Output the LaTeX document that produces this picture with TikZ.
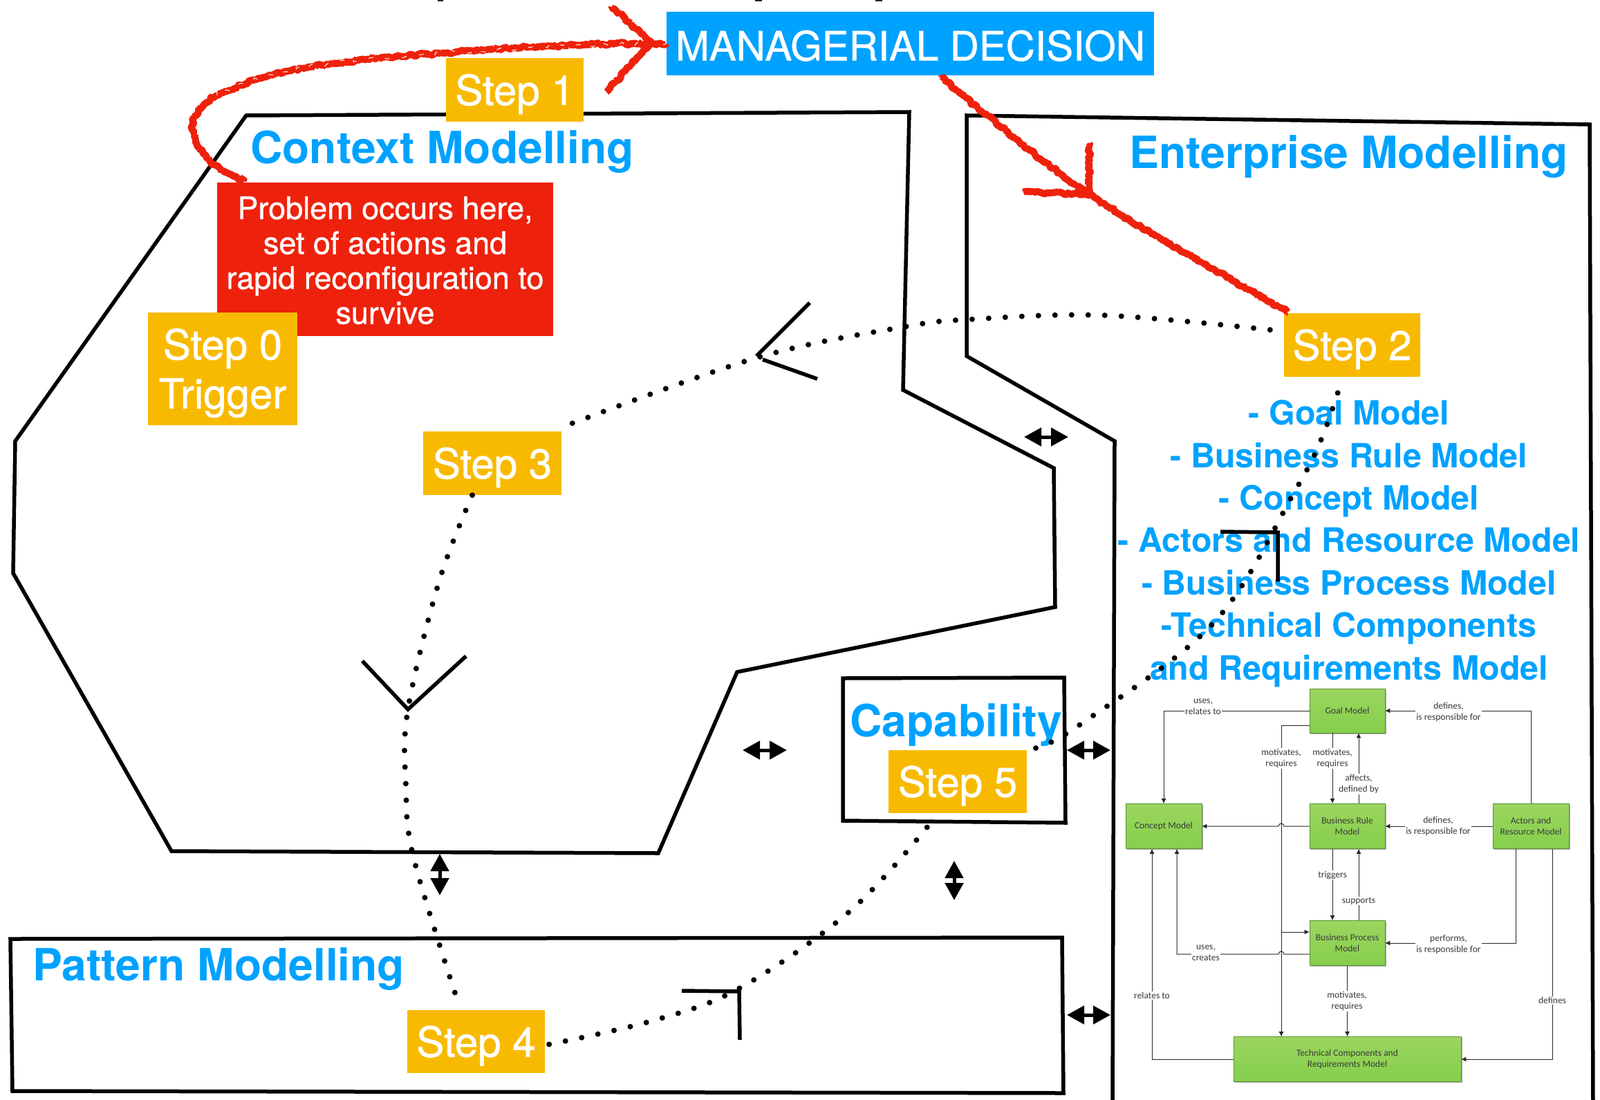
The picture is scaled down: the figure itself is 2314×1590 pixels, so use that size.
\documentclass[tikz,border=0pt]{standalone}
\usepackage{fontspec}
\setmainfont{TeX Gyre Heros}
\newfontfamily\insetfont{Carlito}
\newfontfamily\heavyfont[FakeBold=0.9]{TeX Gyre Heros}
\usetikzlibrary{arrows.meta,calc,decorations.pathmorphing,shadows}
\definecolor{skyb}{HTML}{00A2FF}
\definecolor{amberb}{HTML}{F8BA00}
\definecolor{redb}{HTML}{EE220C}
\definecolor{greent}{HTML}{9BD55F}
\definecolor{greenb}{HTML}{85CF4C}
\definecolor{inktxt}{HTML}{3A3A3A}
\newcommand{\dropline}[1]{\rule{0pt}{#1pt}}
\tikzset{
  region/.style={draw=black,line width=5.5pt,line join=miter},
  stepbox/.style={fill=amberb,text=white,inner sep=0pt,align=center,font=\heavyfont\fontsize{60}{71}\selectfont},
  heading/.style={text=skyb,inner sep=0pt,anchor=base west,font=\fontsize{64.2}{70}\selectfont\bfseries},
  dots/.style={line width=8pt,line cap=round,dash pattern=on 0pt off 24pt,draw=black},
  chev/.style={draw=black,line width=5.5pt},
  dbl/.style={draw=black,line width=5pt,{Triangle[length=25pt,width=26pt]}-{Triangle[length=25pt,width=26pt]}},
  rough/.style={draw=redb,line width=10pt,line cap=butt,line join=bevel,decorate,decoration={random steps,segment length=2.5pt,amplitude=2.2pt}},
  fleck/.style={draw=white,line width=1pt,dash pattern=on 7pt off 19pt,decorate,decoration={random steps,segment length=5pt,amplitude=3.5pt}},
  gbox/.style={top color=greent,bottom color=greenb,draw=greenb!70!black,line width=.6pt,inner sep=0pt,align=center,text=inktxt,
     font=\insetfont\fontsize{13.5}{15.6}\selectfont,drop shadow={shadow xshift=1.5pt,shadow yshift=-1.5pt,fill=black!45,opacity=.7}},
  gline/.style={draw=black!85,line width=1pt,-{Latex[length=7pt,width=7pt]}},
  glabel/.style={fill=white,text=inktxt,inner sep=1pt,align=center,font=\insetfont\fontsize{13.5}{15.6}\selectfont},
}
\begin{document}
\begin{tikzpicture}[x=1pt,y=-1pt]
\useasboundingbox (0,0) rectangle (2314,1590);
\clip (0,0) rectangle (2314,1590);
\fill[white] (0,0) rectangle (2314,1590);

% remnants of the cropped title
\fill[black!85] (633,0) rectangle (641,1.5);
\fill[black!85] (1092,0) rectangle (1102,1.5);
\fill[black!85] (1266,0) rectangle (1276,1.5);

% regions
\draw[region] (356,167) -- (1315,162) -- (1306,564) -- (1524,677) -- (1526,878) -- (1066,972) -- (952,1234) -- (248,1231) -- (19,829) -- (22,638) -- cycle;
\draw[region] (1398,167) -- (2299,180) -- (2304,1600) -- (1609,1600) -- (1612,638) -- (1398,515) -- cycle;
\draw[region] (1219,981) -- (1539,980) -- (1541,1190) -- (1219,1187) -- cycle;
\draw[region] (15,1358) -- (1536,1356) -- (1538,1581) -- (18,1578) -- cycle;

% boxes
\node[fill=skyb,text=white,inner sep=0pt,minimum width=705pt,minimum height=92pt,font=\heavyfont\fontsize{58.4}{70}\selectfont] (mgr) at (1316.5,63) {\dropline{50}MANAGERIAL DECISION};
\node[stepbox,minimum width=199pt,minimum height=92pt] (s1) at (744.5,130) {\dropline{57}Step 1};
\node[fill=redb,text=white,inner sep=0pt,align=center,minimum width=486pt,minimum height=222pt,font=\heavyfont\fontsize{45}{50.5}\selectfont] (prob) at (557,375) {\dropline{36}Problem occurs here,\\set of actions and\\rapid reconfiguration to\\survive};
\node[stepbox,minimum width=216pt,minimum height=163pt] (s0) at (322,533.5) {\dropline{57}Step 0\\Trigger};
\node[stepbox,minimum width=197pt,minimum height=92pt] (s2) at (1955.5,499) {\dropline{57}Step 2};
\node[stepbox,minimum width=200pt,minimum height=92pt] (s3) at (712,670) {\dropline{57}Step 3};
\node[stepbox,minimum width=199pt,minimum height=91pt] (s4) at (688.5,1506.5) {\dropline{57}Step 4};
\node[stepbox,minimum width=200pt,minimum height=91pt] (s5) at (1385,1130.5) {\dropline{57}Step 5};

% headings
\node[heading] (hc) at (362,236) {Context Modelling};
\node[heading] (he) at (1633,243) {Enterprise Modelling};
\node[heading] (hp) at (47,1418) {Pattern Modelling};
\node[heading] (hk) at (1229,1065) {Capability};
\node[text=skyb,inner sep=0pt,align=center,anchor=base,font=\fontsize{48.4}{61.4}\selectfont\bfseries] (lst) at (1951,983) {- Goal Model\\- Business Rule Model\\- Concept Model\\- Actors and Resource Model\\- Business Process Model\\-Technical Components\\and Requirements Model};

% red hand-drawn arrows
\coordinate (r0) at (352,262);
\coordinate (r1) at (303,233);
\coordinate (r2) at (278,187);
\coordinate (r3) at (290,157);
\coordinate (r4) at (314,138);
\coordinate (r5) at (378,113);
\coordinate (r6) at (480,92);
\coordinate (r7) at (658,75);
\coordinate (r8) at (830,65);
\coordinate (rh1) at (885,10);
\coordinate (rh2) at (877,133);
\draw[rough] plot[smooth,tension=.6] coordinates {(r0) (r1) (r2) (r3) (r4) (r5) (r6) (r7) (r8) (mgr.west)};
\draw[fleck] plot[smooth,tension=.6] coordinates {(r4) (r5) (r6) (r7) (r8) (mgr.west)};
\draw[rough] (rh1) -- ($(mgr.west)+(-22,-2)$) -- (rh2);
\coordinate (m0) at (1362,112);
\coordinate (m1) at (1570,278);
\coordinate (m2) at (1862,451);
\coordinate (mh1) at (1575,208);
\coordinate (mh2) at (1480,278);
\draw[rough] plot[smooth,tension=.5] coordinates {(m0) (m1) (m2)};
\draw[rough] (mh1) -- ($(m1)+(5,2)$) -- (mh2);

% inset diagram
\node[gbox,minimum width=109pt,minimum height=64pt] (goal) at (1948.5,1028) {Goal Model};
\node[gbox,minimum width=110pt,minimum height=65pt] (con) at (1683,1195) {Concept Model};
\node[gbox,minimum width=109pt,minimum height=65pt] (br) at (1948.5,1195) {Business Rule\\Model};
\node[gbox,minimum width=110pt,minimum height=65pt] (act) at (2214,1195) {Actors and\\Resource Model};
\node[gbox,minimum width=109pt,minimum height=65pt] (bp) at (1948.5,1364) {Business Process\\Model};
\node[gbox,minimum width=329pt,minimum height=65pt] (tech) at (1948.5,1532) {Technical Components and\\Requirements Model};

\coordinate (hopa) at (1857,1195);
\coordinate (hopb) at (1857,1380);
\coordinate (jn) at (1853,1348);
\draw[gline] (goal.west) -| (con.north);
\draw[gline] (act.north) |- (goal.east);
\draw[gline] ([xshift=-21.5pt]goal.south) -- ([xshift=-21.5pt]br.north);
\draw[gline] ([xshift=16.5pt]br.north) -- ([xshift=16.5pt]goal.south);
\draw[gline] ([yshift=-21pt]goal.west) -| ([xshift=-95.5pt]tech.north);
\draw[gline] (jn) -- (bp.west |- jn);
\draw[gline] (br.west) -- (hopa) arc[start angle=0,end angle=-180,radius=4] -- (con.east);
\draw[gline] (act.west) -- (br.east);
\draw[gline] ([xshift=-21.5pt]br.south) -- ([xshift=-21.5pt]bp.north);
\draw[gline] ([xshift=16.5pt]bp.north) -- ([xshift=16.5pt]br.south);
\draw[gline] ([xshift=-22pt]act.south) |- (bp.east);
\draw[gline] ([xshift=31pt]act.south) |- (tech.east);
\draw[gline] (bp.south) -- (tech.north);
\draw[gline] ([yshift=-16pt]bp.west) -- (hopb) arc[start angle=0,end angle=-180,radius=4] -| ([xshift=19pt]con.south);
\draw[gline] (tech.west) -| ([xshift=-17pt]con.south);

\node[glabel] (l1) at (1740,1022) {uses,\\relates to};
\node[glabel] (l2) at (1853,1097) {motivates,\\requires};
\node[glabel] (l3) at (1927,1097) {motivates,\\requires};
\node[glabel] (l4) at (1965,1134) {affects,\\defined by};
\node[glabel] (l5) at (2095,1030) {defines,\\is responsible for};
\node[glabel] (l6) at (2080,1195) {defines,\\is responsible for};
\node[glabel] (l7) at (1927,1266) {triggers};
\node[glabel] (l8) at (1965,1303) {supports};
\node[glabel] (l9) at (2095,1366) {performs,\\is responsible for};
\node[glabel] (l10) at (1744,1378) {uses,\\creates};
\node[glabel] (l11) at (1666,1440) {relates to};
\node[glabel] (l12) at (1948,1448) {motivates,\\requires};
\node[glabel] (l13) at (2245,1447) {defines};

% dotted route
\coordinate (a1) at (1595,456);
\coordinate (a2) at (1402,462);
\coordinate (a3) at (1306,473);
\coordinate (a4) at (1096,517);
\coordinate (a5) at (823,614);
\coordinate (b1) at (635,841);
\coordinate (b2) at (590,1026);
\coordinate (b3) at (587,1136);
\coordinate (b4) at (598,1240);
\coordinate (b5) at (660,1442);
\coordinate (c1) at (945,1476);
\coordinate (c2) at (1070,1429);
\coordinate (c3) at (1229,1318);
\coordinate (c4) at (1342,1195);
\coordinate (d1) at (1498,1082);
\coordinate (d2) at (1562,1048);
\coordinate (d3) at (1756,900);
\coordinate (d4) at (1874,708);
\coordinate (d5) at (1911,635);
\coordinate (d6) at (1936,564);
\draw[dots] plot[smooth,tension=.6] coordinates {([xshift=-20pt,yshift=22pt]s2.west) (a1) (a2) (a3) (a4) (a5)};
\draw[dots] plot[smooth,tension=.6] coordinates {([xshift=-29pt]s3.south) (b1) (b2) (b3) (b4) (b5)};
\draw[dots] plot[smooth,tension=.6] coordinates {([xshift=6pt,yshift=-4pt]s4.east) (c1) (c2) (c3) (c4)};
\draw[dots] plot[smooth,tension=.6] coordinates {(d1) (d2) (d3) (d4) (d5) (d6)};

% chevrons
\coordinate (e1) at (1171,438);
\coordinate (e2) at (1094,515);
\coordinate (e3) at (1103,520);
\coordinate (e4) at (1182,548);
\draw[chev] (e1) -- (e2);
\draw[chev] (e3) -- (e4);
\coordinate (f1) at (524,956);
\coordinate (f2) at (590,1026);
\coordinate (f3) at (674,949);
\draw[chev] (f1) -- (f2) -- (f3);
\coordinate (g1) at (986,1433);
\coordinate (g2) at (1069,1434);
\coordinate (g3) at (1070,1504);
\draw[chev] (g1) -- (g2) -- (g3);
\coordinate (h1) at (1765,769);
\coordinate (h2) at (1848,770);
\coordinate (h3) at (1848,841);
\draw[chev] (h1) -- (h2) -- (h3);

% double arrows
\coordinate (u1) at (1481,632); \coordinate (u2) at (1545,632);
\coordinate (v1) at (1074,1085); \coordinate (v2) at (1138,1085);
\coordinate (w1) at (1543,1085); \coordinate (w2) at (1606,1085);
\coordinate (x1) at (1543,1468); \coordinate (x2) at (1606,1468);
\coordinate (y1) at (636,1235); \coordinate (y2) at (636,1295);
\coordinate (z1) at (1380,1245); \coordinate (z2) at (1380,1302);
\draw[dbl] (u1) -- (u2);
\draw[dbl] (v1) -- (v2);
\draw[dbl] (w1) -- (w2);
\draw[dbl] (x1) -- (x2);
\draw[dbl] (y1) -- (y2);
\draw[dbl] (z1) -- (z2);
\end{tikzpicture}
\end{document}
